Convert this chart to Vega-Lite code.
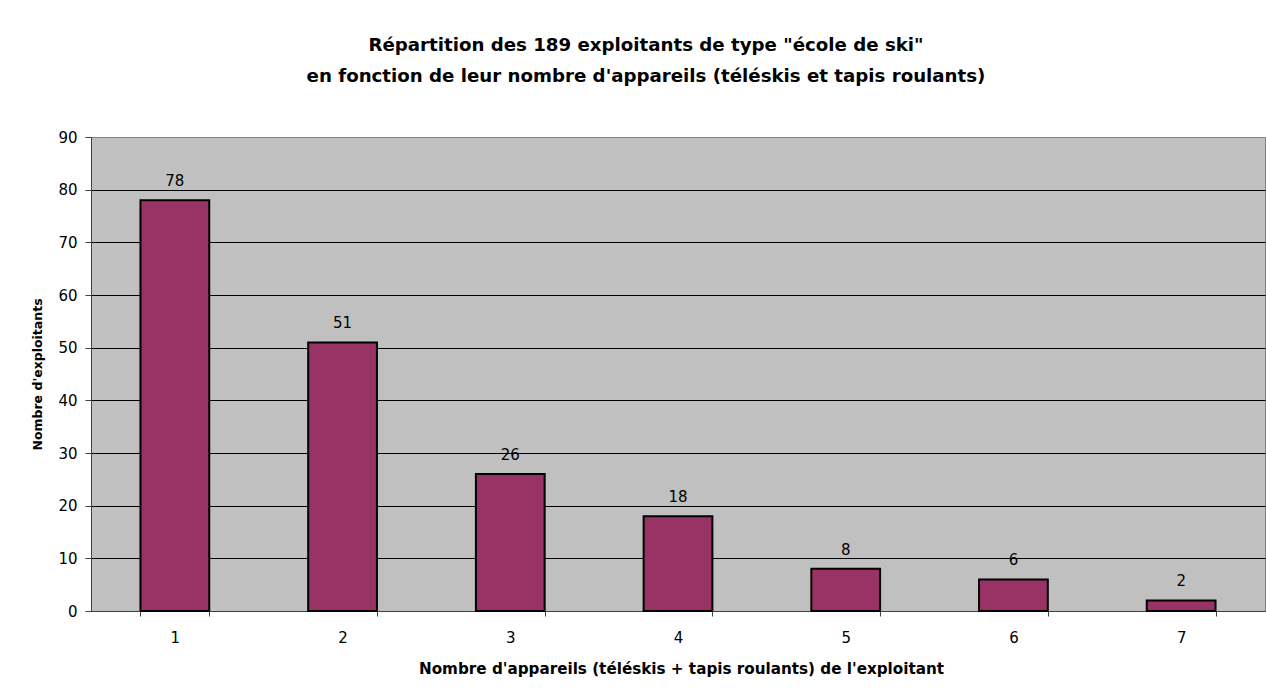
{
  "$schema": "https://vega.github.io/schema/vega-lite/v6.json",
  "autosize": {"type": "none"},
  "width": 1174,
  "height": 474,
  "padding": {"left": 91, "top": 137, "right": 1, "bottom": 82},
  "background": "white",
  "title": {
    "text": ["Répartition des 189 exploitants de type \"école de ski\"", "en fonction de leur nombre d'appareils (téléskis et tapis roulants)"],
    "font": "DejaVu Sans",
    "fontSize": 18.2,
    "fontWeight": "bold",
    "color": "black",
    "anchor": "middle",
    "dx": -32,
    "offset": 44,
    "lineHeight": 31
  },
  "data": {
    "values": [
      {"appareils": "1", "exploitants": 78},
      {"appareils": "2", "exploitants": 51},
      {"appareils": "3", "exploitants": 26},
      {"appareils": "4", "exploitants": 18},
      {"appareils": "5", "exploitants": 8},
      {"appareils": "6", "exploitants": 6},
      {"appareils": "7", "exploitants": 2}
    ]
  },
  "encoding": {
    "x": {
      "field": "appareils",
      "type": "ordinal",
      "scale": {"paddingInner": 0.59, "paddingOuter": 0.295},
      "axis": {
        "title": "Nombre d'appareils (téléskis + tapis roulants) de l'exploitant",
        "titleFont": "DejaVu Sans",
        "titleFontSize": 15.2,
        "titleFontWeight": "bold",
        "titleColor": "black",
        "titlePadding": 16,
        "titleX": 590,
        "labelAngle": 0,
        "labelFont": "DejaVu Sans",
        "labelFontSize": 15,
        "labelColor": "black",
        "labelPadding": 14,
        "tickBand": "extent",
        "tickSize": 5,
        "tickColor": "#404040",
        "domainColor": "#404040",
        "grid": false
      }
    },
    "y": {
      "field": "exploitants",
      "type": "quantitative",
      "scale": {"domain": [0, 90], "nice": false},
      "axis": {
        "title": "Nombre d'exploitants",
        "titleFont": "DejaVu Sans",
        "titleFontSize": 12.5,
        "titleFontWeight": "bold",
        "titleColor": "black",
        "titlePadding": 13,
        "values": [0, 10, 20, 30, 40, 50, 60, 70, 80, 90],
        "labelFont": "DejaVu Sans",
        "labelFontSize": 15,
        "labelColor": "black",
        "labelPadding": 8,
        "tickSize": 6,
        "tickColor": "#404040",
        "domainColor": "#404040",
        "grid": true,
        "gridColor": {"condition": {"test": "datum.value == 90", "value": "#808080"}, "value": "black"},
        "gridOpacity": 1,
        "gridWidth": 1
      }
    }
  },
  "layer": [
    {
      "mark": {"type": "bar", "color": "#993366", "stroke": "black", "strokeWidth": 2}
    },
    {
      "mark": {"type": "text", "baseline": "bottom", "dy": -11, "font": "DejaVu Sans", "fontSize": 15, "color": "black"},
      "encoding": {"text": {"field": "exploitants", "type": "quantitative"}}
    }
  ],
  "config": {
    "view": {"fill": "#C0C0C0", "stroke": "#808080", "strokeWidth": 1}
  }
}
